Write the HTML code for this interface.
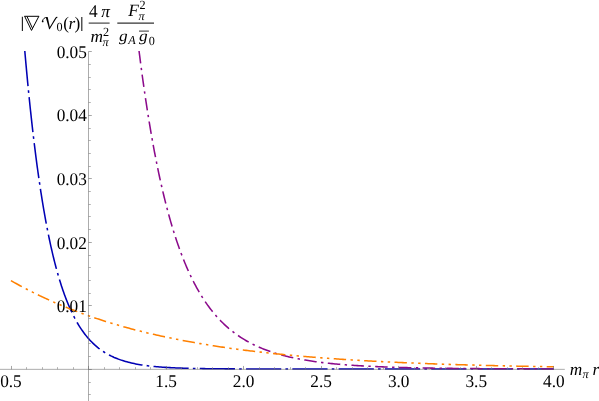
<!DOCTYPE html>
<html><head><meta charset="utf-8"><title>plot</title>
<style>html,body{margin:0;padding:0;background:#fff;}body{width:599px;height:401px;overflow:hidden;font-family:"Liberation Serif",serif;}svg{display:block;will-change:transform}</style>
</head><body>
<svg width="599" height="401" viewBox="0 0 599 401">
<rect width="599" height="401" fill="#fff"/>
<path d="M24.80 51.00 L24.93 52.49 L25.06 53.99 L25.20 55.48 L25.33 56.98 L25.46 58.47 L25.59 59.96 L25.73 61.46 L25.86 62.95 L25.99 64.44 L26.13 65.94 L26.27 67.43 L26.40 68.92 L26.54 70.42 L26.68 71.91 L26.82 73.40 L26.96 74.90 L27.10 76.39 L27.24 77.88 L27.38 79.37 L27.52 80.87 L27.66 82.36 L27.81 83.85 L27.95 85.34 L28.10 86.84 L28.24 88.33 L28.39 89.82 L28.54 91.31 L28.69 92.81 L28.83 94.30 L28.98 95.79 L29.14 97.28 L29.29 98.77 L29.44 100.27 L29.59 101.76 L29.75 103.25 L29.90 104.74 L30.06 106.23 L30.21 107.72 L30.37 109.21 L30.53 110.71 L30.69 112.20 L30.85 113.69 L31.01 115.18 L31.17 116.67 L31.33 118.16 L31.50 119.65 L31.66 121.14 L31.83 122.63 L31.99 124.12 L32.16 125.61 L32.33 127.10 L32.50 128.59 L32.67 130.08 L32.84 131.57 L33.02 133.06 L33.19 134.55 L33.36 136.04 L33.54 137.53 L33.72 139.02 L33.90 140.51 L34.08 141.99 L34.26 143.48 L34.44 144.97 L34.62 146.46 L34.80 147.95 L34.99 149.44 L35.18 150.92 L35.36 152.41 L35.55 153.90 L35.74 155.39 L35.93 156.87 L36.13 158.36 L36.32 159.85 L36.52 161.33 L36.71 162.82 L36.91 164.31 L37.11 165.79 L37.31 167.28 L37.52 168.76 L37.72 170.25 L37.93 171.74 L38.13 173.22 L38.34 174.71 L38.55 176.19 L38.76 177.68 L38.98 179.16 L39.19 180.64 L39.41 182.13 L39.63 183.61 L39.85 185.09 L40.07 186.58 L40.29 188.06 L40.52 189.54 L40.74 191.02 L40.97 192.51 L41.20 193.99 L41.43 195.47 L41.67 196.95 L41.90 198.43 L42.14 199.91 L42.38 201.39 L42.63 202.87 L42.87 204.35 L43.12 205.83 L43.37 207.31 L43.62 208.79 L43.87 210.27 L44.12 211.74 L44.38 213.22 L44.64 214.70 L44.91 216.17 L45.17 217.65 L45.44 219.12 L45.71 220.60 L45.98 222.07 L46.26 223.55 L46.53 225.02 L46.81 226.49 L47.10 227.97 L47.38 229.44 L47.67 230.91 L47.96 232.38 L48.26 233.85 L48.56 235.32 L48.86 236.79 L49.16 238.26 L49.47 239.73 L49.78 241.19 L50.09 242.66 L50.41 244.12 L50.73 245.59 L51.06 247.05 L51.39 248.52 L51.72 249.98 L52.06 251.44 L52.40 252.90 L52.74 254.36 L53.09 255.82 L53.44 257.28 L53.80 258.73 L54.16 260.19 L54.52 261.64 L54.89 263.09 L55.27 264.55 L55.65 266.00 L56.03 267.45 L56.42 268.89 L56.82 270.34 L57.22 271.79 L57.63 273.23 L58.04 274.67 L58.45 276.11 L58.88 277.55 L59.31 278.99 L59.74 280.42 L60.19 281.85 L60.63 283.29 L61.09 284.71 L61.55 286.14 L62.02 287.56 L62.50 288.99 L62.98 290.41 L63.47 291.82 L63.97 293.24 L64.48 294.65 L65.00 296.05 L65.53 297.46 L66.06 298.86 L66.60 300.26 L67.16 301.65 L67.72 303.04 L68.29 304.43 L68.88 305.81 L69.47 307.18 L70.08 308.56 L70.69 309.92 L71.32 311.28 L71.96 312.64 L72.62 313.99 L73.28 315.33 L73.96 316.67 L74.66 318.00 L75.36 319.32 L76.08 320.64 L76.82 321.94 L77.57 323.24 L78.34 324.53 L79.12 325.81 L79.92 327.07 L80.74 328.33 L81.58 329.58 L82.43 330.81 L83.30 332.03 L84.19 333.24 L85.10 334.43 L86.03 335.61 L86.97 336.77 L87.94 337.91 L88.93 339.04 L89.94 340.15 L90.97 341.24 L92.02 342.31 L93.09 343.36 L94.18 344.39 L95.29 345.40 L96.43 346.38 L97.58 347.34 L98.75 348.27 L99.95 349.18 L101.16 350.06 L102.39 350.92 L103.64 351.75 L104.90 352.55 L106.19 353.33 L107.49 354.08 L108.80 354.80 L110.13 355.49 L111.47 356.16 L112.83 356.80 L114.19 357.42 L115.57 358.01 L116.96 358.57 L118.36 359.11 L119.77 359.62 L121.19 360.11 L122.61 360.58 L124.04 361.03 L125.48 361.45 L126.93 361.86 L128.38 362.24 L129.83 362.60 L131.29 362.95 L132.75 363.28 L134.22 363.59 L135.69 363.89 L137.16 364.17 L138.64 364.43 L140.12 364.68 L141.60 364.92 L143.08 365.15 L144.56 365.36 L146.05 365.56 L147.54 365.75 L149.03 365.93 L150.51 366.10 L152.01 366.26 L153.50 366.42 L154.99 366.56 L156.48 366.70 L157.98 366.83 L159.47 366.95 L160.97 367.06 L162.46 367.17 L163.96 367.28 L165.45 367.37 L166.95 367.46 L168.45 367.55 L169.95 367.63 L171.44 367.71 L172.94 367.78 L174.44 367.85 L175.94 367.92 L177.43 367.98 L178.93 368.04 L180.43 368.09 L181.93 368.14 L183.43 368.19 L184.93 368.24 L186.43 368.28 L187.93 368.32 L189.42 368.36 L190.92 368.40 L192.42 368.43 L193.92 368.46 L195.42 368.49 L196.92 368.52 L198.42 368.55 L199.92 368.58 L201.42 368.60 L202.92 368.62 L204.42 368.64 L205.92 368.67 L207.42 368.68 L208.92 368.70 L210.41 368.72 L211.91 368.74 L213.41 368.75 L214.91 368.77 L216.41 368.78 L217.91 368.79 L219.41 368.80 L220.91 368.82 L222.41 368.83 L223.91 368.84 L225.41 368.85 L226.91 368.85 L228.41 368.86 L229.91 368.87 L231.41 368.88 L232.91 368.89 L234.41 368.89 L235.91 368.90 L237.40 368.90 L238.90 368.91 L240.40 368.92 L241.90 368.92 L243.40 368.92 L244.90 368.93 L246.40 368.93 L247.90 368.94 L249.40 368.94 L250.90 368.94 L252.40 368.95 L253.90 368.95 L255.40 368.95 L256.90 368.96 L258.40 368.96 L259.90 368.96 L261.40 368.96 L262.90 368.97 L264.40 368.97 L265.90 368.97 L267.39 368.97 L268.89 368.97 L270.39 368.97 L271.89 368.98 L273.39 368.98 L274.89 368.98 L276.39 368.98 L277.89 368.98 L279.39 368.98 L280.89 368.98 L282.39 368.98 L283.89 368.99 L285.39 368.99 L286.89 368.99 L288.39 368.99 L289.89 368.99 L291.39 368.99 L292.89 368.99 L294.39 368.99 L295.89 368.99 L297.39 368.99 L298.88 368.99 L300.38 368.99 L301.88 368.99 L303.38 368.99 L304.88 368.99 L306.38 368.99 L307.88 368.99 L309.38 368.99 L310.88 369.00 L312.38 369.00 L313.88 369.00 L315.38 369.00 L316.88 369.00 L318.38 369.00 L319.88 369.00 L321.38 369.00 L322.88 369.00 L324.38 369.00 L325.88 369.00 L327.38 369.00 L328.87 369.00 L330.37 369.00 L331.87 369.00 L333.37 369.00 L334.87 369.00 L336.37 369.00 L337.87 369.00 L339.37 369.00 L340.87 369.00 L342.37 369.00 L343.87 369.00 L345.37 369.00 L346.87 369.00 L348.37 369.00 L349.87 369.00 L351.37 369.00 L352.87 369.00 L354.37 369.00 L355.87 369.00 L357.37 369.00 L358.86 369.00 L360.36 369.00 L361.86 369.00 L363.36 369.00 L364.86 369.00 L366.36 369.00 L367.86 369.00 L369.36 369.00 L370.86 369.00 L372.36 369.00 L373.86 369.00 L375.36 369.00 L376.86 369.00 L378.36 369.00 L379.86 369.00 L381.36 369.00 L382.86 369.00 L384.36 369.00 L385.86 369.00 L387.36 369.00 L388.85 369.00 L390.35 369.00 L391.85 369.00 L393.35 369.00 L394.85 369.00 L396.35 369.00 L397.85 369.00 L399.35 369.00 L400.85 369.00 L402.35 369.00 L403.85 369.00 L405.35 369.00 L406.85 369.00 L408.35 369.00 L409.85 369.00 L411.35 369.00 L412.85 369.00 L414.35 369.00 L415.85 369.00 L417.35 369.00 L418.84 369.00 L420.34 369.00 L421.84 369.00 L423.34 369.00 L424.84 369.00 L426.34 369.00 L427.84 369.00 L429.34 369.00 L430.84 369.00 L432.34 369.00 L433.84 369.00 L435.34 369.00 L436.84 369.00 L438.34 369.00 L439.84 369.00 L441.34 369.00 L442.84 369.00 L444.34 369.00 L445.84 369.00 L447.34 369.00 L448.83 369.00 L450.33 369.00 L451.83 369.00 L453.33 369.00 L454.83 369.00 L456.33 369.00 L457.83 369.00 L459.33 369.00 L460.83 369.00 L462.33 369.00 L463.83 369.00 L465.33 369.00 L466.83 369.00 L468.33 369.00 L469.83 369.00 L471.33 369.00 L472.83 369.00 L474.33 369.00 L475.83 369.00 L477.33 369.00 L478.82 369.00 L480.32 369.00 L481.82 369.00 L483.32 369.00 L484.82 369.00 L486.32 369.00 L487.82 369.00 L489.32 369.00 L490.82 369.00 L492.32 369.00 L493.82 369.00 L495.32 369.00 L496.82 369.00 L498.32 369.00 L499.82 369.00 L501.32 369.00 L502.82 369.00 L504.32 369.00 L505.82 369.00 L507.32 369.00 L508.81 369.00 L510.31 369.00 L511.81 369.00 L513.31 369.00 L514.81 369.00 L516.31 369.00 L517.81 369.00 L519.31 369.00 L520.81 369.00 L522.31 369.00 L523.81 369.00 L525.31 369.00 L526.81 369.00 L528.31 369.00 L529.81 369.00 L531.31 369.00 L532.81 369.00 L534.31 369.00 L535.81 369.00 L537.31 369.00 L538.80 369.00 L540.30 369.00 L541.80 369.00 L543.30 369.00 L544.80 369.00 L546.30 369.00 L547.80 369.00 L549.30 369.00 L550.80 369.00 L552.30 369.00 L553.80 369.00" fill="none" stroke="#0000b4" stroke-width="1.55" stroke-dasharray="35.2 4.2 2.6 4.3"/>
<path d="M139.06 51.00 L139.24 52.49 L139.43 53.98 L139.62 55.46 L139.81 56.95 L140.00 58.44 L140.19 59.92 L140.38 61.41 L140.57 62.90 L140.77 64.38 L140.96 65.87 L141.16 67.36 L141.36 68.84 L141.56 70.33 L141.75 71.82 L141.95 73.30 L142.16 74.79 L142.36 76.27 L142.56 77.76 L142.77 79.24 L142.97 80.73 L143.18 82.21 L143.39 83.70 L143.60 85.18 L143.81 86.67 L144.02 88.15 L144.23 89.64 L144.45 91.12 L144.66 92.60 L144.88 94.09 L145.10 95.57 L145.32 97.05 L145.54 98.54 L145.76 100.02 L145.98 101.50 L146.21 102.99 L146.43 104.47 L146.66 105.95 L146.89 107.43 L147.12 108.91 L147.35 110.40 L147.58 111.88 L147.82 113.36 L148.05 114.84 L148.29 116.32 L148.53 117.80 L148.77 119.28 L149.01 120.76 L149.25 122.24 L149.49 123.72 L149.74 125.20 L149.99 126.68 L150.24 128.15 L150.49 129.63 L150.74 131.11 L151.00 132.59 L151.25 134.06 L151.51 135.54 L151.77 137.02 L152.03 138.49 L152.29 139.97 L152.56 141.45 L152.82 142.92 L153.09 144.40 L153.36 145.87 L153.63 147.35 L153.91 148.82 L154.18 150.29 L154.46 151.77 L154.74 153.24 L155.02 154.71 L155.31 156.19 L155.59 157.66 L155.88 159.13 L156.17 160.60 L156.46 162.07 L156.76 163.54 L157.05 165.01 L157.35 166.48 L157.65 167.95 L157.96 169.42 L158.26 170.88 L158.57 172.35 L158.88 173.82 L159.20 175.28 L159.51 176.75 L159.83 178.22 L160.15 179.68 L160.47 181.14 L160.80 182.61 L161.13 184.07 L161.46 185.53 L161.79 186.99 L162.13 188.46 L162.47 189.92 L162.81 191.38 L163.16 192.83 L163.51 194.29 L163.86 195.75 L164.21 197.21 L164.57 198.66 L164.93 200.12 L165.29 201.57 L165.66 203.03 L166.03 204.48 L166.41 205.93 L166.78 207.38 L167.16 208.83 L167.55 210.28 L167.93 211.73 L168.33 213.18 L168.72 214.62 L169.12 216.07 L169.52 217.51 L169.93 218.96 L170.34 220.40 L170.75 221.84 L171.17 223.28 L171.60 224.72 L172.02 226.16 L172.46 227.59 L172.89 229.03 L173.33 230.46 L173.78 231.89 L174.23 233.32 L174.68 234.75 L175.14 236.18 L175.60 237.60 L176.07 239.03 L176.55 240.45 L177.02 241.87 L177.51 243.29 L178.00 244.71 L178.49 246.12 L178.99 247.54 L179.50 248.95 L180.01 250.36 L180.53 251.76 L181.05 253.17 L181.58 254.57 L182.12 255.97 L182.66 257.37 L183.21 258.76 L183.77 260.16 L184.33 261.55 L184.90 262.93 L185.48 264.32 L186.06 265.70 L186.65 267.08 L187.25 268.45 L187.85 269.82 L188.46 271.19 L189.09 272.56 L189.71 273.92 L190.35 275.28 L191.00 276.63 L191.65 277.98 L192.31 279.32 L192.98 280.67 L193.66 282.00 L194.35 283.33 L195.05 284.66 L195.75 285.98 L196.47 287.30 L197.20 288.61 L197.93 289.92 L198.68 291.22 L199.44 292.51 L200.20 293.80 L200.98 295.08 L201.77 296.36 L202.57 297.63 L203.38 298.89 L204.20 300.14 L205.03 301.39 L205.87 302.63 L206.73 303.86 L207.60 305.08 L208.48 306.30 L209.37 307.50 L210.27 308.70 L211.19 309.89 L212.12 311.06 L213.06 312.23 L214.01 313.39 L214.98 314.54 L215.96 315.67 L216.95 316.80 L217.95 317.91 L218.97 319.01 L220.00 320.10 L221.05 321.17 L222.10 322.24 L223.17 323.29 L224.25 324.33 L225.35 325.35 L226.46 326.36 L227.58 327.35 L228.71 328.34 L229.86 329.30 L231.02 330.26 L232.19 331.19 L233.37 332.11 L234.56 333.02 L235.77 333.91 L236.99 334.79 L238.22 335.65 L239.46 336.49 L240.71 337.32 L241.97 338.13 L243.24 338.92 L244.52 339.70 L245.81 340.47 L247.11 341.21 L248.42 341.94 L249.74 342.66 L251.06 343.36 L252.40 344.04 L253.74 344.71 L255.09 345.36 L256.45 346.00 L257.81 346.62 L259.18 347.23 L260.56 347.82 L261.94 348.40 L263.33 348.96 L264.73 349.51 L266.13 350.04 L267.54 350.56 L268.95 351.07 L270.36 351.56 L271.78 352.04 L273.21 352.51 L274.63 352.97 L276.07 353.41 L277.50 353.84 L278.94 354.26 L280.39 354.67 L281.83 355.07 L283.28 355.45 L284.73 355.83 L286.19 356.19 L287.64 356.55 L289.10 356.89 L290.56 357.23 L292.03 357.56 L293.49 357.87 L294.96 358.18 L296.43 358.48 L297.90 358.77 L299.37 359.05 L300.85 359.33 L302.32 359.60 L303.80 359.86 L305.28 360.11 L306.75 360.35 L308.23 360.59 L309.72 360.82 L311.20 361.05 L312.68 361.27 L314.17 361.48 L315.65 361.69 L317.14 361.89 L318.62 362.08 L320.11 362.27 L321.60 362.45 L323.09 362.63 L324.58 362.81 L326.07 362.98 L327.56 363.14 L329.05 363.30 L330.54 363.46 L332.03 363.61 L333.52 363.75 L335.02 363.90 L336.51 364.03 L338.00 364.17 L339.50 364.30 L340.99 364.43 L342.48 364.55 L343.98 364.67 L345.47 364.79 L346.97 364.90 L348.46 365.01 L349.96 365.12 L351.45 365.23 L352.95 365.33 L354.45 365.43 L355.94 365.52 L357.44 365.62 L358.94 365.71 L360.43 365.80 L361.93 365.88 L363.43 365.97 L364.92 366.05 L366.42 366.13 L367.92 366.20 L369.41 366.28 L370.91 366.35 L372.41 366.42 L373.91 366.49 L375.41 366.56 L376.90 366.62 L378.40 366.69 L379.90 366.75 L381.40 366.81 L382.90 366.87 L384.39 366.93 L385.89 366.98 L387.39 367.04 L388.89 367.09 L390.39 367.14 L391.89 367.19 L393.38 367.24 L394.88 367.29 L396.38 367.33 L397.88 367.38 L399.38 367.42 L400.88 367.46 L402.38 367.50 L403.88 367.54 L405.37 367.58 L406.87 367.62 L408.37 367.66 L409.87 367.69 L411.37 367.73 L412.87 367.76 L414.37 367.80 L415.87 367.83 L417.37 367.86 L418.87 367.89 L420.36 367.92 L421.86 367.95 L423.36 367.98 L424.86 368.01 L426.36 368.03 L427.86 368.06 L429.36 368.08 L430.86 368.11 L432.36 368.13 L433.86 368.16 L435.36 368.18 L436.85 368.20 L438.35 368.22 L439.85 368.24 L441.35 368.27 L442.85 368.29 L444.35 368.30 L445.85 368.32 L447.35 368.34 L448.85 368.36 L450.35 368.38 L451.85 368.39 L453.35 368.41 L454.85 368.43 L456.34 368.44 L457.84 368.46 L459.34 368.47 L460.84 368.49 L462.34 368.50 L463.84 368.52 L465.34 368.53 L466.84 368.54 L468.34 368.56 L469.84 368.57 L471.34 368.58 L472.84 368.59 L474.34 368.60 L475.84 368.61 L477.33 368.62 L478.83 368.64 L480.33 368.65 L481.83 368.66 L483.33 368.67 L484.83 368.67 L486.33 368.68 L487.83 368.69 L489.33 368.70 L490.83 368.71 L492.33 368.72 L493.83 368.73 L495.33 368.73 L496.83 368.74 L498.32 368.75 L499.82 368.76 L501.32 368.76 L502.82 368.77 L504.32 368.78 L505.82 368.78 L507.32 368.79 L508.82 368.80 L510.32 368.80 L511.82 368.81 L513.32 368.81 L514.82 368.82 L516.32 368.82 L517.82 368.83 L519.32 368.83 L520.81 368.84 L522.31 368.84 L523.81 368.85 L525.31 368.85 L526.81 368.86 L528.31 368.86 L529.81 368.87 L531.31 368.87 L532.81 368.87 L534.31 368.88 L535.81 368.88 L537.31 368.89 L538.81 368.89 L540.31 368.89 L541.81 368.90 L543.30 368.90 L544.80 368.90 L546.30 368.90 L547.80 368.91 L549.30 368.91 L550.80 368.91 L552.30 368.92 L553.80 368.92" fill="none" stroke="#8b0a8b" stroke-width="1.55" stroke-dasharray="12.5 4.42 2.4 4.42"/>
<path d="M10.95 280.60 L12.25 281.35 L13.55 282.08 L14.86 282.82 L16.16 283.54 L17.47 284.27 L18.79 284.99 L20.10 285.70 L21.42 286.41 L22.74 287.12 L24.06 287.82 L25.39 288.51 L26.71 289.21 L28.04 289.89 L29.37 290.57 L30.71 291.25 L32.04 291.93 L33.38 292.59 L34.72 293.26 L36.07 293.92 L37.41 294.57 L38.76 295.22 L40.11 295.87 L41.46 296.51 L42.82 297.15 L44.17 297.78 L45.53 298.41 L46.89 299.03 L48.25 299.65 L49.62 300.27 L50.98 300.88 L52.35 301.49 L53.72 302.09 L55.09 302.68 L56.47 303.28 L57.84 303.87 L59.22 304.45 L60.60 305.03 L61.98 305.61 L63.37 306.18 L64.75 306.74 L66.14 307.31 L67.53 307.86 L68.92 308.42 L70.31 308.97 L71.70 309.51 L73.10 310.06 L74.49 310.59 L75.89 311.13 L77.29 311.66 L78.69 312.18 L80.10 312.70 L81.50 313.22 L82.91 313.73 L84.31 314.24 L85.72 314.74 L87.13 315.24 L88.54 315.74 L89.96 316.23 L91.37 316.72 L92.79 317.21 L94.21 317.69 L95.62 318.16 L97.04 318.64 L98.46 319.11 L99.89 319.57 L101.31 320.03 L102.74 320.49 L104.16 320.94 L105.59 321.39 L107.02 321.84 L108.45 322.28 L109.88 322.72 L111.31 323.16 L112.74 323.59 L114.18 324.02 L115.61 324.44 L117.05 324.86 L118.48 325.28 L119.92 325.69 L121.36 326.10 L122.80 326.51 L124.24 326.91 L125.69 327.31 L127.13 327.71 L128.57 328.10 L130.02 328.49 L131.46 328.88 L132.91 329.26 L134.36 329.64 L135.81 330.01 L137.26 330.39 L138.71 330.76 L140.16 331.12 L141.61 331.49 L143.06 331.85 L144.51 332.20 L145.97 332.56 L147.42 332.91 L148.88 333.25 L150.34 333.60 L151.79 333.94 L153.25 334.28 L154.71 334.61 L156.17 334.94 L157.63 335.27 L159.09 335.60 L160.55 335.92 L162.01 336.24 L163.47 336.56 L164.94 336.87 L166.40 337.19 L167.86 337.50 L169.33 337.80 L170.80 338.10 L172.26 338.41 L173.73 338.70 L175.19 339.00 L176.66 339.29 L178.13 339.58 L179.60 339.87 L181.07 340.15 L182.54 340.43 L184.01 340.71 L185.48 340.99 L186.95 341.26 L188.42 341.54 L189.89 341.80 L191.37 342.07 L192.84 342.34 L194.31 342.60 L195.79 342.86 L197.26 343.11 L198.74 343.37 L200.21 343.62 L201.69 343.87 L203.16 344.12 L204.64 344.36 L206.12 344.60 L207.59 344.85 L209.07 345.08 L210.55 345.32 L212.03 345.55 L213.50 345.79 L214.98 346.01 L216.46 346.24 L217.94 346.47 L219.42 346.69 L220.90 346.91 L222.38 347.13 L223.86 347.35 L225.34 347.56 L226.82 347.77 L228.31 347.98 L229.79 348.19 L231.27 348.40 L232.75 348.61 L234.24 348.81 L235.72 349.01 L237.20 349.21 L238.69 349.40 L240.17 349.60 L241.65 349.79 L243.14 349.98 L244.62 350.17 L246.11 350.36 L247.59 350.55 L249.08 350.73 L250.56 350.91 L252.05 351.10 L253.53 351.27 L255.02 351.45 L256.50 351.63 L257.99 351.80 L259.48 351.97 L260.96 352.14 L262.45 352.31 L263.94 352.48 L265.43 352.65 L266.91 352.81 L268.40 352.97 L269.89 353.13 L271.38 353.29 L272.86 353.45 L274.35 353.61 L275.84 353.76 L277.33 353.91 L278.82 354.07 L280.31 354.22 L281.80 354.36 L283.29 354.51 L284.78 354.66 L286.27 354.80 L287.75 354.95 L289.24 355.09 L290.73 355.23 L292.22 355.37 L293.71 355.50 L295.20 355.64 L296.70 355.78 L298.19 355.91 L299.68 356.04 L301.17 356.17 L302.66 356.30 L304.15 356.43 L305.64 356.56 L307.13 356.68 L308.62 356.81 L310.11 356.93 L311.61 357.05 L313.10 357.18 L314.59 357.30 L316.08 357.41 L317.57 357.53 L319.06 357.65 L320.56 357.76 L322.05 357.88 L323.54 357.99 L325.03 358.10 L326.53 358.21 L328.02 358.32 L329.51 358.43 L331.00 358.54 L332.50 358.64 L333.99 358.75 L335.48 358.85 L336.97 358.96 L338.47 359.06 L339.96 359.16 L341.45 359.26 L342.95 359.36 L344.44 359.46 L345.93 359.56 L347.43 359.65 L348.92 359.75 L350.41 359.84 L351.91 359.94 L353.40 360.03 L354.89 360.12 L356.39 360.21 L357.88 360.30 L359.38 360.39 L360.87 360.48 L362.36 360.57 L363.86 360.65 L365.35 360.74 L366.85 360.82 L368.34 360.91 L369.83 360.99 L371.33 361.07 L372.82 361.15 L374.32 361.23 L375.81 361.31 L377.31 361.39 L378.80 361.47 L380.29 361.55 L381.79 361.62 L383.28 361.70 L384.78 361.77 L386.27 361.85 L387.77 361.92 L389.26 361.99 L390.76 362.07 L392.25 362.14 L393.75 362.21 L395.24 362.28 L396.74 362.35 L398.23 362.42 L399.73 362.48 L401.22 362.55 L402.72 362.62 L404.21 362.68 L405.71 362.75 L407.20 362.81 L408.70 362.88 L410.19 362.94 L411.69 363.00 L413.18 363.07 L414.68 363.13 L416.17 363.19 L417.67 363.25 L419.16 363.31 L420.66 363.37 L422.15 363.42 L423.65 363.48 L425.15 363.54 L426.64 363.60 L428.14 363.65 L429.63 363.71 L431.13 363.76 L432.62 363.82 L434.12 363.87 L435.61 363.92 L437.11 363.98 L438.60 364.03 L440.10 364.08 L441.60 364.13 L443.09 364.18 L444.59 364.23 L446.08 364.28 L447.58 364.33 L449.07 364.38 L450.57 364.43 L452.07 364.47 L453.56 364.52 L455.06 364.57 L456.55 364.61 L458.05 364.66 L459.54 364.70 L461.04 364.75 L462.54 364.79 L464.03 364.84 L465.53 364.88 L467.02 364.92 L468.52 364.97 L470.02 365.01 L471.51 365.05 L473.01 365.09 L474.50 365.13 L476.00 365.17 L477.50 365.21 L478.99 365.25 L480.49 365.29 L481.98 365.33 L483.48 365.37 L484.98 365.41 L486.47 365.44 L487.97 365.48 L489.46 365.52 L490.96 365.55 L492.46 365.59 L493.95 365.63 L495.45 365.66 L496.94 365.70 L498.44 365.73 L499.94 365.76 L501.43 365.80 L502.93 365.83 L504.42 365.87 L505.92 365.90 L507.42 365.93 L508.91 365.96 L510.41 366.00 L511.91 366.03 L513.40 366.06 L514.90 366.09 L516.39 366.12 L517.89 366.15 L519.39 366.18 L520.88 366.21 L522.38 366.24 L523.87 366.27 L525.37 366.30 L526.87 366.32 L528.36 366.35 L529.86 366.38 L531.36 366.41 L532.85 366.44 L534.35 366.46 L535.84 366.49 L537.34 366.52 L538.84 366.54 L540.33 366.57 L541.83 366.59 L543.33 366.62 L544.82 366.64 L546.32 366.67 L547.81 366.69 L549.31 366.72 L550.81 366.74 L552.30 366.77 L553.80 366.79" fill="none" stroke="#ff8000" stroke-width="1.55" stroke-dasharray="12.4 4.45 2.4 4.4 2.4 4.4"/>
<g stroke="#666" stroke-width="0.55" fill="none">
<line x1="0" y1="369.35" x2="564.8" y2="369.35"/>
<line x1="88.5" y1="51.5" x2="88.5" y2="401"/>
</g>
<g stroke="#6a6a6a" stroke-width="0.6" fill="none">
<line x1="11.50" y1="369.35" x2="11.50" y2="365.95"/>
<line x1="26.50" y1="369.35" x2="26.50" y2="367.15" stroke="#808080"/>
<line x1="42.50" y1="369.35" x2="42.50" y2="367.15" stroke="#808080"/>
<line x1="57.50" y1="369.35" x2="57.50" y2="367.15" stroke="#808080"/>
<line x1="73.50" y1="369.35" x2="73.50" y2="367.15" stroke="#808080"/>
<line x1="88.50" y1="369.35" x2="88.50" y2="365.95"/>
<line x1="104.50" y1="369.35" x2="104.50" y2="367.15" stroke="#808080"/>
<line x1="119.50" y1="369.35" x2="119.50" y2="367.15" stroke="#808080"/>
<line x1="135.50" y1="369.35" x2="135.50" y2="367.15" stroke="#808080"/>
<line x1="150.50" y1="369.35" x2="150.50" y2="367.15" stroke="#808080"/>
<line x1="166.50" y1="369.35" x2="166.50" y2="365.95"/>
<line x1="181.50" y1="369.35" x2="181.50" y2="367.15" stroke="#808080"/>
<line x1="197.50" y1="369.35" x2="197.50" y2="367.15" stroke="#808080"/>
<line x1="212.50" y1="369.35" x2="212.50" y2="367.15" stroke="#808080"/>
<line x1="228.50" y1="369.35" x2="228.50" y2="367.15" stroke="#808080"/>
<line x1="243.50" y1="369.35" x2="243.50" y2="365.95"/>
<line x1="259.50" y1="369.35" x2="259.50" y2="367.15" stroke="#808080"/>
<line x1="274.50" y1="369.35" x2="274.50" y2="367.15" stroke="#808080"/>
<line x1="290.50" y1="369.35" x2="290.50" y2="367.15" stroke="#808080"/>
<line x1="305.50" y1="369.35" x2="305.50" y2="367.15" stroke="#808080"/>
<line x1="321.50" y1="369.35" x2="321.50" y2="365.95"/>
<line x1="336.50" y1="369.35" x2="336.50" y2="367.15" stroke="#808080"/>
<line x1="352.50" y1="369.35" x2="352.50" y2="367.15" stroke="#808080"/>
<line x1="367.50" y1="369.35" x2="367.50" y2="367.15" stroke="#808080"/>
<line x1="383.50" y1="369.35" x2="383.50" y2="367.15" stroke="#808080"/>
<line x1="398.50" y1="369.35" x2="398.50" y2="365.95"/>
<line x1="414.50" y1="369.35" x2="414.50" y2="367.15" stroke="#808080"/>
<line x1="429.50" y1="369.35" x2="429.50" y2="367.15" stroke="#808080"/>
<line x1="445.50" y1="369.35" x2="445.50" y2="367.15" stroke="#808080"/>
<line x1="460.50" y1="369.35" x2="460.50" y2="367.15" stroke="#808080"/>
<line x1="476.50" y1="369.35" x2="476.50" y2="365.95"/>
<line x1="491.50" y1="369.35" x2="491.50" y2="367.15" stroke="#808080"/>
<line x1="507.50" y1="369.35" x2="507.50" y2="367.15" stroke="#808080"/>
<line x1="522.50" y1="369.35" x2="522.50" y2="367.15" stroke="#808080"/>
<line x1="538.50" y1="369.35" x2="538.50" y2="367.15" stroke="#808080"/>
<line x1="553.50" y1="369.35" x2="553.50" y2="365.95"/>
<line x1="88.5" y1="394.50" x2="90.80" y2="394.50" stroke="#808080"/>
<line x1="88.5" y1="382.50" x2="90.80" y2="382.50" stroke="#808080"/>
<line x1="88.5" y1="369.50" x2="91.80" y2="369.50"/>
<line x1="88.5" y1="356.50" x2="90.80" y2="356.50" stroke="#808080"/>
<line x1="88.5" y1="343.50" x2="90.80" y2="343.50" stroke="#808080"/>
<line x1="88.5" y1="331.50" x2="90.80" y2="331.50" stroke="#808080"/>
<line x1="88.5" y1="318.50" x2="90.80" y2="318.50" stroke="#808080"/>
<line x1="88.5" y1="305.50" x2="91.80" y2="305.50"/>
<line x1="88.5" y1="293.50" x2="90.80" y2="293.50" stroke="#808080"/>
<line x1="88.5" y1="280.50" x2="90.80" y2="280.50" stroke="#808080"/>
<line x1="88.5" y1="267.50" x2="90.80" y2="267.50" stroke="#808080"/>
<line x1="88.5" y1="255.50" x2="90.80" y2="255.50" stroke="#808080"/>
<line x1="88.5" y1="242.50" x2="91.80" y2="242.50"/>
<line x1="88.5" y1="229.50" x2="90.80" y2="229.50" stroke="#808080"/>
<line x1="88.5" y1="216.50" x2="90.80" y2="216.50" stroke="#808080"/>
<line x1="88.5" y1="204.50" x2="90.80" y2="204.50" stroke="#808080"/>
<line x1="88.5" y1="191.50" x2="90.80" y2="191.50" stroke="#808080"/>
<line x1="88.5" y1="178.50" x2="91.80" y2="178.50"/>
<line x1="88.5" y1="166.50" x2="90.80" y2="166.50" stroke="#808080"/>
<line x1="88.5" y1="153.50" x2="90.80" y2="153.50" stroke="#808080"/>
<line x1="88.5" y1="140.50" x2="90.80" y2="140.50" stroke="#808080"/>
<line x1="88.5" y1="128.50" x2="90.80" y2="128.50" stroke="#808080"/>
<line x1="88.5" y1="115.50" x2="91.80" y2="115.50"/>
<line x1="88.5" y1="102.50" x2="90.80" y2="102.50" stroke="#808080"/>
<line x1="88.5" y1="89.50" x2="90.80" y2="89.50" stroke="#808080"/>
<line x1="88.5" y1="77.50" x2="90.80" y2="77.50" stroke="#808080"/>
<line x1="88.5" y1="64.50" x2="90.80" y2="64.50" stroke="#808080"/>
<line x1="88.5" y1="51.50" x2="91.80" y2="51.50"/>
</g>
<g font-family="Liberation Serif, serif" fill="#000" style="text-rendering:geometricPrecision">
<text transform="translate(10.95,386.60) scale(1,1.032)" font-size="17.3" text-anchor="middle">0.5</text>
<text transform="translate(166.05,386.60) scale(1,1.032)" font-size="17.3" text-anchor="middle">1.5</text>
<text transform="translate(243.60,386.60) scale(1,1.032)" font-size="17.3" text-anchor="middle">2.0</text>
<text transform="translate(321.15,386.60) scale(1,1.032)" font-size="17.3" text-anchor="middle">2.5</text>
<text transform="translate(398.70,386.60) scale(1,1.032)" font-size="17.3" text-anchor="middle">3.0</text>
<text transform="translate(476.25,386.60) scale(1,1.032)" font-size="17.3" text-anchor="middle">3.5</text>
<text transform="translate(553.80,386.60) scale(1,1.032)" font-size="17.3" text-anchor="middle">4.0</text>
<text transform="translate(86.90,312.08) scale(1,1.032)" font-size="17.3" text-anchor="end">0.01</text>
<text transform="translate(86.90,248.51) scale(1,1.032)" font-size="17.3" text-anchor="end">0.02</text>
<text transform="translate(86.90,184.94) scale(1,1.032)" font-size="17.3" text-anchor="end">0.03</text>
<text transform="translate(86.90,121.37) scale(1,1.032)" font-size="17.3" text-anchor="end">0.04</text>
<text transform="translate(86.90,57.80) scale(1,1.032)" font-size="17.3" text-anchor="end">0.05</text>
</g>
<g font-family="Liberation Serif, serif" fill="#000" style="text-rendering:geometricPrecision">
<line x1="22.4" y1="16.7" x2="22.4" y2="31.1" stroke="#222" stroke-width="1.15"/>
<path d="M24.3 16.3 L39.1 16.3 M24.7 16.4 L31.5 30.4 L38.8 16.4 M27.1 16.7 L32.3 27.9" fill="none" stroke="#000" stroke-width="1.0" stroke-linejoin="miter" stroke-linecap="butt"/>
<path d="M45.8 17.5 L47.7 17.1 L50.0 28.1 L49.1 28.9 Z" fill="#000" stroke="none"/>
<path d="M46.6 17.4 C44.9 17.1 42.6 18.9 42.4 21.3" fill="none" stroke="#000" stroke-width="0.9" stroke-linecap="round"/>
<circle cx="42.7" cy="21.4" r="0.85" fill="#000"/>
<path d="M49.4 28.7 C51.6 25.2 54.2 20.6 56.0 17.9 C56.3 17.5 56.6 17.3 57.0 17.2" fill="none" stroke="#000" stroke-width="1.05" stroke-linecap="round"/>
<text transform="translate(56.60,31.00) scale(1,1.032)" font-size="12.2" text-anchor="start">0</text>
<text transform="translate(63.20,28.60) scale(1,1.032)" font-size="17.3" text-anchor="start">(</text>
<text transform="translate(68.60,28.60) scale(1,1.0)" font-size="17.3" font-style="italic" text-anchor="start">r</text>
<text transform="translate(74.60,28.60) scale(1,1.032)" font-size="17.3" text-anchor="start">)</text>
<line x1="81.8" y1="17.1" x2="81.8" y2="30.9" stroke="#222" stroke-width="1.15"/>
<line x1="88.7" y1="23.1" x2="109.6" y2="23.1" stroke="#333" stroke-width="1.1"/>
<text transform="translate(89.10,16.75) scale(1,1.032)" font-size="17.3" text-anchor="start">4</text>
<text transform="translate(101.20,16.75) scale(1,1.0)" font-size="17.3" font-style="italic" text-anchor="start">π</text>
<text transform="translate(90.50,42.00) scale(1,1.0)" font-size="17.3" font-style="italic" text-anchor="start">m</text>
<text transform="translate(103.00,35.60) scale(1,1.032)" font-size="12.2" text-anchor="start">2</text>
<text transform="translate(102.60,45.60) scale(1,1.0)" font-size="12.2" font-style="italic" text-anchor="start">π</text>
<line x1="117.3" y1="23.1" x2="154" y2="23.1" stroke="#333" stroke-width="1.1"/>
<text transform="translate(128.30,15.80) scale(1,1.0)" font-size="17.3" font-style="italic" text-anchor="start">F</text>
<text transform="translate(139.60,9.20) scale(1,1.032)" font-size="12.2" text-anchor="start">2</text>
<text transform="translate(138.60,19.60) scale(1,1.0)" font-size="12.2" font-style="italic" text-anchor="start">π</text>
<text transform="translate(118.90,40.60) scale(1,0.9)" font-size="17.3" font-style="italic" text-anchor="start">g</text>
<text transform="translate(128.20,43.70) scale(1,1.0)" font-size="12.2" font-style="italic" text-anchor="start">A</text>
<line x1="139" y1="31.1" x2="148.9" y2="31.1" stroke="#333" stroke-width="1"/>
<text transform="translate(138.90,40.60) scale(1,0.9)" font-size="17.3" font-style="italic" text-anchor="start">g</text>
<text transform="translate(148.80,44.90) scale(1,1.032)" font-size="12.2" text-anchor="start">0</text>
<text transform="translate(569.80,374.80) scale(1,1.0)" font-size="17.3" font-style="italic" text-anchor="start">m</text>
<text transform="translate(582.60,377.60) scale(1,1.0)" font-size="12.2" font-style="italic" text-anchor="start">π</text>
<text transform="translate(592.60,374.80) scale(1,1.0)" font-size="17.3" font-style="italic" text-anchor="start">r</text>
</g>
</svg>
</body></html>
